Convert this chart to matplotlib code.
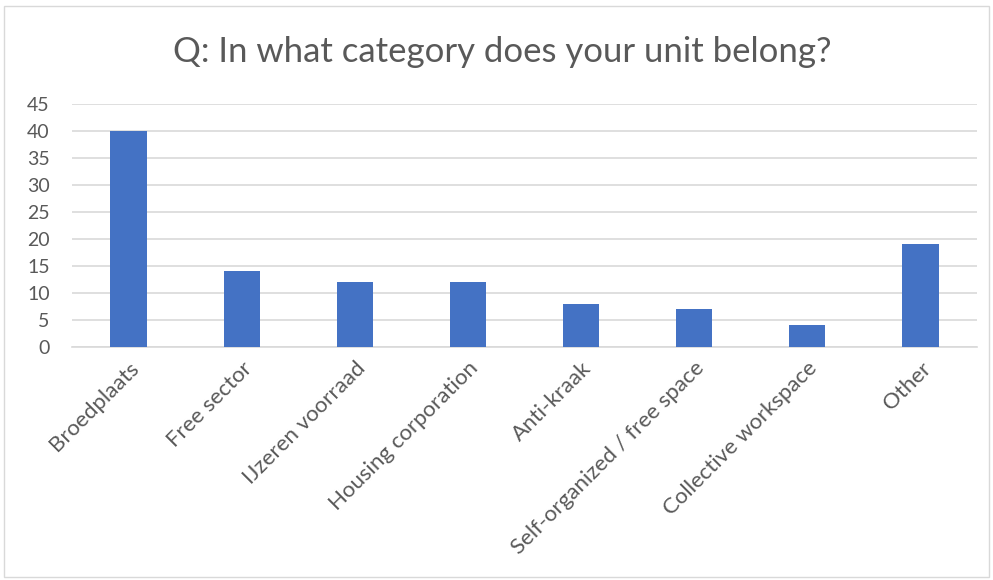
import matplotlib
matplotlib.use('Agg')
import matplotlib.pyplot as plt
from matplotlib.patches import Rectangle

categories = ['Broedplaats', 'Free sector', 'IJzeren voorraad', 'Housing corporation',
              'Anti-kraak', 'Self-organized / free space', 'Collective workspace', 'Other']
counts = [40, 14, 12, 12, 8, 7, 4, 19]
y_ticks = [0, 5, 10, 15, 20, 25, 30, 35, 40, 45]

TEXT = '#595959'
BAR = '#4472C4'
GRID = '#d9d9d9'

plt.rcParams['font.family'] = ['Lato', 'DejaVu Sans']

fig = plt.figure(figsize=(9.93, 5.8), dpi=100)
fig.patches.append(Rectangle((0.004, 0.005), 0.992, 0.985, transform=fig.transFigure,
                             fill=False, edgecolor='#d9d9d9', linewidth=1))

ax = fig.add_axes([72 / 993, 1 - 347 / 580, (977 - 72) / 993, (347 - 104) / 580])
x = range(len(categories))
ax.bar(x, counts, width=0.32, color=BAR, zorder=3)
ax.set_xlim(-0.5, len(categories) - 0.5)
ax.set_ylim(0, 45)
ax.set_yticks(y_ticks)
ax.set_xticks(list(x))
ax.set_xticklabels(categories, rotation=45, ha='right', rotation_mode='anchor')
ax.tick_params(axis='y', length=0, colors=TEXT, labelsize=14, pad=16)
ax.tick_params(axis='x', length=0, colors=TEXT, labelsize=16, pad=8)
ax.grid(axis='y', color=GRID, linewidth=1.2, zorder=0)
for side in ['top', 'right', 'left']:
    ax.spines[side].set_visible(False)
ax.spines['bottom'].set_color(GRID)
ax.spines['bottom'].set_linewidth(1.2)

fig.text(0.506, 1 - 52 / 580, 'Q: In what category does your unit belong?',
         ha='center', va='center', fontsize=25, color=TEXT)

fig.savefig('out.png', dpi=100)
